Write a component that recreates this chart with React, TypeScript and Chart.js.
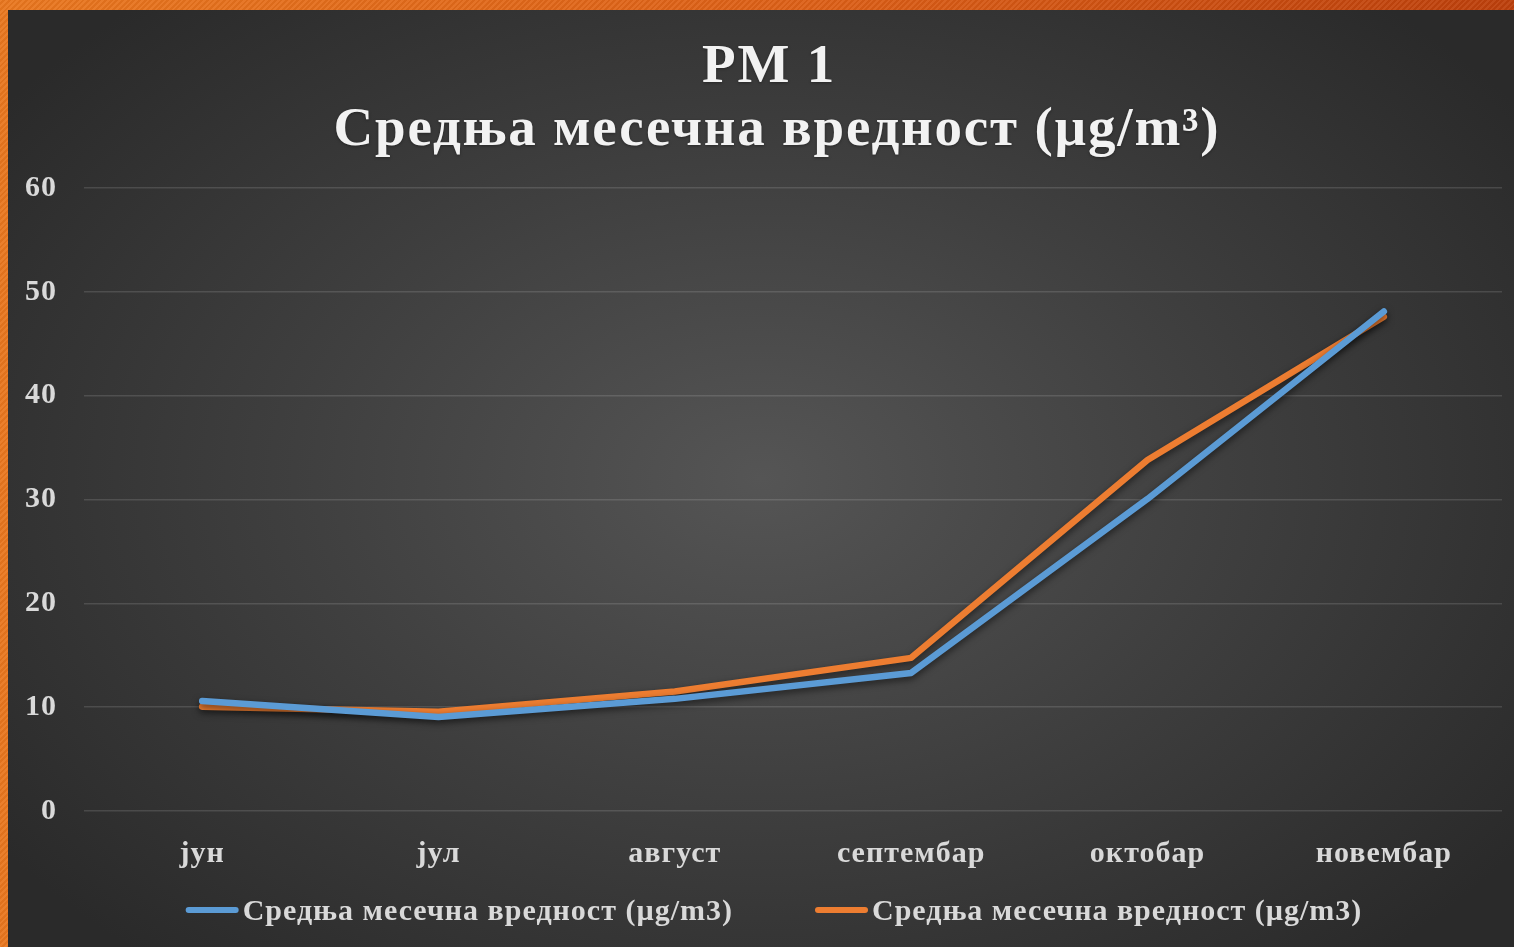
import React, { useEffect, useRef } from "react";
import { Chart, registerables } from "chart.js";

Chart.register(...registerables);

const months = ["јун", "јул", "август", "септембар", "октобар", "новембар"];
const seriesLabel = "Средња месечна вредност (µg/m3)";
const blueValues = [10.6, 9.05, 10.8, 13.3, 30.05, 48.1];
const orangeValues = [10.05, 9.55, 11.5, 14.75, 33.8, 47.6];
const titleLines = ["PM 1", "Средња месечна вредност (µg/m³)"];
const yMin = 0;
const yMax = 60;
const yStep = 10;

const FONT = "'Liberation Serif', 'Times New Roman', serif";
const TEXT_COLOR = "#d9d9d9";

const spacingPlugin = {
  id: "textSpacing",
  beforeUpdate(chart: any) {
    chart.ctx.letterSpacing = "1px";
  },
  beforeDraw(chart: any) {
    chart.ctx.letterSpacing = "1px";
  },
};

const shadowPlugin = {
  id: "lineShadow",
  beforeDatasetsDraw(chart: any) {
    const ctx = chart.ctx;
    ctx.save();
    ctx.shadowColor = "rgba(0,0,0,0.55)";
    ctx.shadowBlur = 7;
    ctx.shadowOffsetX = 0;
    ctx.shadowOffsetY = 3;
  },
  afterDatasetsDraw(chart: any) {
    chart.ctx.restore();
  },
};

const titlePlugin = {
  id: "customTitle",
  afterDraw(chart: any) {
    const ctx = chart.ctx;
    ctx.save();
    ctx.letterSpacing = "1.8px";
    ctx.fillStyle = "#f2f2f2";
    ctx.font = `bold 55px ${FONT}`;
    ctx.textAlign = "center";
    ctx.textBaseline = "alphabetic";
    ctx.shadowColor = "rgba(0,0,0,0.35)";
    ctx.shadowBlur = 3;
    ctx.shadowOffsetY = 1;
    const cx = chart.width / 2 + 8;
    ctx.fillText(titleLines[0], cx, 72);
    ctx.fillText(titleLines[1], cx + 8, 135);
    ctx.restore();
  },
};

const legendPlugin = {
  id: "customLegend",
  afterDraw(chart: any) {
    const ctx = chart.ctx;
    const datasets = chart.data.datasets;
    ctx.save();
    ctx.letterSpacing = "1px";
    ctx.font = `bold 30px ${FONT}`;
    ctx.textBaseline = "middle";
    ctx.textAlign = "left";
    const boxW = 53;
    const gapText = 4;
    const gapItems = 82;
    const widths = datasets.map((d: any) => ctx.measureText(d.label).width);
    const itemWs = widths.map((w: number) => boxW + gapText + w);
    const total = itemWs.reduce((a: number, b: number) => a + b, 0) + gapItems * (datasets.length - 1);
    let x = chart.width / 2 + 13 - total / 2;
    const y = 900;
    datasets.forEach((d: any, i: number) => {
      ctx.strokeStyle = d.borderColor;
      ctx.lineWidth = 6;
      ctx.lineCap = "round";
      ctx.beginPath();
      ctx.moveTo(x + 3, y);
      ctx.lineTo(x + boxW - 3, y);
      ctx.stroke();
      ctx.fillStyle = TEXT_COLOR;
      ctx.fillText(d.label, x + boxW + gapText, y + 2);
      x += itemWs[i] + gapItems;
    });
    ctx.restore();
  },
};

export default function App() {
  const canvasRef = useRef<HTMLCanvasElement | null>(null);

  useEffect(() => {
    if (!canvasRef.current) return;
    const chart = new Chart(canvasRef.current, {
      type: "line",
      data: {
        labels: months,
        datasets: [
          {
            label: seriesLabel,
            data: blueValues,
            borderColor: "#5b9bd5",
            backgroundColor: "#5b9bd5",
            borderWidth: 6.5,
            pointRadius: 0,
            borderCapStyle: "round",
            borderJoinStyle: "round",
            tension: 0,
          },
          {
            label: seriesLabel,
            data: orangeValues,
            borderColor: "#ed7d31",
            backgroundColor: "#ed7d31",
            borderWidth: 6.5,
            pointRadius: 0,
            borderCapStyle: "round",
            borderJoinStyle: "round",
            tension: 0,
          },
        ],
      },
      options: {
        animation: false,
        responsive: false,
        maintainAspectRatio: false,
        layout: { padding: { top: 178, right: 12, bottom: 62, left: 0 } },
        plugins: {
          title: { display: false },
          legend: { display: false },
          tooltip: { enabled: false },
        },
        scales: {
          x: {
            offset: true,
            grid: { display: false, drawTicks: false },
            border: { display: false },
            ticks: {
              color: TEXT_COLOR,
              font: { family: FONT, size: 30, weight: "bold" },
              padding: 25,
              maxRotation: 0,
            },
            afterFit(scale: any) {
              scale.height = 74;
            },
          },
          y: {
            min: yMin,
            max: yMax,
            grid: { color: "rgba(255,255,255,0.13)", lineWidth: 1.5, drawTicks: false },
            border: { display: false },
            ticks: {
              stepSize: yStep,
              color: TEXT_COLOR,
              font: { family: FONT, size: 30, weight: "bold" },
              padding: 27,
            },
            afterFit(scale: any) {
              scale.width = 76;
            },
          },
        },
      },
      plugins: [spacingPlugin, shadowPlugin, titlePlugin, legendPlugin],
    });
    return () => chart.destroy();
  }, []);

  return (
    <div
      style={{
        position: "absolute",
        left: 0,
        top: 0,
        width: 1514,
        height: 947,
        overflow: "hidden",
        background:
          "repeating-linear-gradient(135deg, rgba(255,255,255,0.06) 0px, rgba(255,255,255,0.06) 2px, rgba(0,0,0,0.04) 2px, rgba(0,0,0,0.04) 4px), linear-gradient(90deg, #e9771f 0%, #dc5f17 55%, #bd400c 100%)",
      }}
    >
      <div
        style={{
          position: "absolute",
          left: 8,
          top: 10,
          width: 1506,
          height: 937,
          background:
            "radial-gradient(ellipse 62% 68% at 50% 50%, #555555 0%, #3f3f3f 50%, #2a2a2a 100%)",
        }}
      >
        <canvas ref={canvasRef} width={1506} height={937} style={{ display: "block" }} />
      </div>
    </div>
  );
}
